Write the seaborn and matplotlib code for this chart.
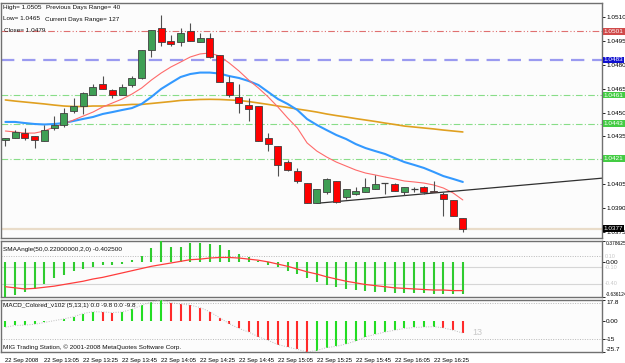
import matplotlib
matplotlib.use("Agg")
import matplotlib.pyplot as plt
import seaborn as sns
import numpy as np

# ---- 5 minute bars, 22 Sep 2008 12:45 .. 16:40 ----
opens = [1.0433, 1.0434, 1.0437, 1.0435, 1.0432, 1.0440, 1.0442, 1.0451, 1.0454, 1.0461,
         1.0468, 1.0464, 1.0461, 1.0467, 1.0472, 1.0489, 1.0503, 1.0495, 1.0494, 1.0501,
         1.0494, 1.0497, 1.0486, 1.0469, 1.0460, 1.0455, 1.0454, 1.0434, 1.0429, 1.0419,
         1.0413, 1.0406, 1.0393, 1.0400, 1.0407, 1.0397, 1.0399, 1.0400, 1.0402, 1.0406,
         1.0405, 1.0400, 1.0402, 1.0403, 1.0401, 1.0399, 1.0395, 1.0384]
highs = [1.0434, 1.0439, 1.0440, 1.0435, 1.0442, 1.0448, 1.0453, 1.0459, 1.0463, 1.0468,
         1.0473, 1.0465, 1.0468, 1.0473, 1.0489, 1.0502, 1.0511, 1.0499, 1.0503, 1.0506,
         1.0500, 1.0500, 1.0486, 1.0473, 1.0468, 1.0459, 1.0454, 1.0437, 1.0429, 1.0420,
         1.0415, 1.0406, 1.0402, 1.0409, 1.0407, 1.0402, 1.0403, 1.0409, 1.0411, 1.0406,
         1.0406, 1.0403, 1.0403, 1.0404, 1.0407, 1.0400, 1.0395, 1.0384]
lows = [1.0429, 1.0434, 1.0433, 1.0428, 1.0432, 1.0439, 1.0441, 1.0450, 1.0449, 1.0461,
        1.0465, 1.0459, 1.0461, 1.0466, 1.0471, 1.0485, 1.0492, 1.0492, 1.0492, 1.0495,
        1.0494, 1.0484, 1.0469, 1.0460, 1.0450, 1.0445, 1.0432, 1.0426, 1.0410, 1.0413,
        1.0406, 1.0393, 1.0393, 1.0399, 1.0393, 1.0396, 1.0398, 1.0400, 1.0402, 1.0399,
        1.0401, 1.0398, 1.0400, 1.0399, 1.0400, 1.0385, 1.0385, 1.0375]
closes = [1.0434, 1.0438, 1.0434, 1.0433, 1.0439, 1.0442, 1.0450, 1.0454, 1.0462, 1.0466,
          1.0465, 1.0461, 1.0466, 1.0472, 1.0489, 1.0502, 1.0494, 1.0493, 1.0500, 1.0495,
          1.0497, 1.0485, 1.0469, 1.0461, 1.0456, 1.0452, 1.0432, 1.0430, 1.0417, 1.0414,
          1.0407, 1.0393, 1.0402, 1.0408, 1.0394, 1.0402, 1.0401, 1.0403, 1.0405, 1.0406,
          1.0401, 1.0403, 1.0402, 1.0400, 1.0400, 1.0396, 1.0385, 1.0377]

ma_fast = [1.04384, 1.04378, 1.04371, 1.04371, 1.04384, 1.04409, 1.04428, 1.04453, 1.04478, 1.04503,
           1.04535, 1.04560, 1.04585, 1.04616, 1.04654, 1.04704, 1.04748, 1.04786, 1.04817, 1.04849,
           1.04868, 1.04874, 1.04855, 1.04811, 1.04761, 1.04704, 1.04654, 1.04598, 1.04535, 1.04466,
           1.04403, 1.04309, 1.04258, 1.04221, 1.04189, 1.04164, 1.04139, 1.04120, 1.04108, 1.04095,
           1.04083, 1.04070, 1.04064, 1.04057, 1.04045, 1.04026, 1.03995, 1.03951]
ma_mid = [1.04441, 1.04441, 1.04434, 1.04428, 1.04425, 1.04428, 1.04434, 1.04447, 1.04460, 1.04472,
          1.04491, 1.04503, 1.04516, 1.04528, 1.04554, 1.04598, 1.04648, 1.04686, 1.04723, 1.04742,
          1.04751, 1.04751, 1.04745, 1.04729, 1.04717, 1.04698, 1.04673, 1.04629, 1.04585, 1.04554,
          1.04516, 1.04459, 1.04422, 1.04390, 1.04359, 1.04334, 1.04302, 1.04277, 1.04258, 1.04240,
          1.04214, 1.04189, 1.04171, 1.04152, 1.04127, 1.04101, 1.04083, 1.04064]
ma_slow = [1.04579, 1.04572, 1.04566, 1.04560, 1.04554, 1.04547, 1.04541, 1.04538, 1.04538, 1.04541,
           1.04541, 1.04544, 1.04547, 1.04551, 1.04551, 1.04557, 1.04563, 1.04569, 1.04576, 1.04579,
           1.04582, 1.04583, 1.04582, 1.04579, 1.04576, 1.04569, 1.04560, 1.04551, 1.04541, 1.04532,
           1.04522, 1.04513, 1.04503, 1.04491, 1.04481, 1.04472, 1.04462, 1.04453, 1.04444, 1.04434,
           1.04425, 1.04415, 1.04409, 1.04403, 1.04397, 1.04390, 1.04384, 1.04378]

trend_bars = [32, 45]
trend_prices = [1.0393, 1.0400]

level_prices = [1.0501, 1.0483, 1.0461, 1.0443, 1.0421]
level_texts = ["1.0501", "1.0483", "1.0461", "1.0443", "1.0421"]
last_price = 1.0377
price_ticks = [1.0510, 1.0495, 1.0480, 1.0465, 1.0450, 1.0435, 1.0405, 1.0390, 1.0375]

# SMAAngle sub window
sma_hist = [-0.636, -0.60, -0.54, -0.49, -0.40, -0.30, -0.23, -0.17, -0.13, -0.10,
            -0.05, -0.05, -0.04, 0.03, 0.11, 0.25, 0.3786, 0.27, 0.27, 0.35,
            0.34, 0.33, 0.30, 0.22, 0.14, 0.08, 0.02, -0.05, -0.10, -0.16,
            -0.22, -0.30, -0.36, -0.42, -0.46, -0.49, -0.51, -0.53, -0.54, -0.55,
            -0.56, -0.56, -0.57, -0.57, -0.58, -0.58, -0.59, -0.58]
sma_signal = [-0.45, -0.47, -0.49, -0.48, -0.46, -0.44, -0.41, -0.38, -0.35, -0.31,
              -0.28, -0.24, -0.20, -0.16, -0.12, -0.08, -0.05, -0.02, 0.01, 0.04,
              0.05, 0.07, 0.08, 0.08, 0.07, 0.05, 0.03, 0.00, -0.04, -0.08,
              -0.13, -0.18, -0.22, -0.27, -0.31, -0.35, -0.38, -0.41, -0.43, -0.45,
              -0.47, -0.48, -0.49, -0.50, -0.51, -0.51, -0.52, -0.52]
sma_levels = [0.1, -0.1, -0.4]

# MACD_Colored sub window
macd = [-5.0, -3.5, -3.2, -2.5, -1.0, 0.5, 2.0, 3.8, 6.5, 8.0,
        7.8, 7.3, 7.8, 10.0, 13.5, 16.0, 17.8, 15.5, 14.5, 13.5,
        11.5, 8.0, 3.0, -2.0, -6.0, -9.0, -13.0, -16.0, -19.5, -21.5,
        -23.5, -25.7, -24.5, -22.0, -21.0, -19.0, -16.5, -13.0, -11.0, -9.0,
        -7.5, -6.0, -5.2, -4.8, -4.5, -5.5, -7.5, -9.8]
macd_levels = [15, -15]

tick_bars = [0, 4, 8, 12, 16, 20, 24, 28, 32, 36, 40, 44]
tick_labels = ["22 Sep 2008", "22 Sep 13:05", "22 Sep 13:25", "22 Sep 13:45", "22 Sep 14:05",
               "22 Sep 14:25", "22 Sep 14:45", "22 Sep 15:05", "22 Sep 15:25", "22 Sep 15:45",
               "22 Sep 16:05", "22 Sep 16:25"]

X_LEFT, X_RIGHT = -0.45, 61.3

sns.set_style("white")
plt.rcParams["font.family"] = ["Liberation Sans", "DejaVu Sans"]
FS = 4.6

W, H = 625, 363
fig = plt.figure(figsize=(W / 100, H / 100), dpi=100)
fig.patch.set_facecolor("white")


def panel(top, bottom):
    a = fig.add_axes([1 / W, 1 - bottom / H, 601 / W, (bottom - top) / H])
    a.set_facecolor("#fcfcfc")
    for s in a.spines.values():
        s.set_color("#707070")
        s.set_linewidth(1.0)
    a.set_xlim(X_LEFT, X_RIGHT)
    a.yaxis.tick_right()
    a.tick_params(axis="y", length=2, width=0.6, pad=1, labelsize=FS, colors="black")
    a.set_xticks([])
    return a


ax = panel(3, 238)
ax1 = panel(241, 297)
ax2 = panel(300, 352)

x = np.arange(len(closes))
o = np.array(opens)
c = np.array(closes)
up = c > o
dn = c < o
dj = c == o

# ---- main chart ----
ax.set_ylim(1.03712, 1.05188)
ax.axhline(last_price, color="#e9dcc9", lw=1.6, zorder=1)
ax.axhline(level_prices[0], color="#e07070", lw=0.8, ls=(0, (6, 2, 1, 2, 1, 2)), zorder=1)
ax.axhline(level_prices[1], color="#9a9af0", lw=1.6, ls=(0, (6, 3.5)), zorder=1)
for lv in level_prices[2:]:
    ax.axhline(lv, color="#88dd88", lw=0.8, ls=(0, (6, 2, 1, 2)), zorder=1)

sns.lineplot(x=x, y=ma_slow, ax=ax, color="#e0a020", linewidth=1.2, zorder=2)
sns.lineplot(x=x, y=ma_mid, ax=ax, color="#3399ff", linewidth=1.5, zorder=2)
sns.lineplot(x=x, y=ma_fast, ax=ax, color="#ff6a6a", linewidth=0.8, zorder=2)

slope = (trend_prices[1] - trend_prices[0]) / (trend_bars[1] - trend_bars[0])
ax.plot([trend_bars[0], X_RIGHT],
        [trend_prices[0], trend_prices[0] + slope * (X_RIGHT - trend_bars[0])],
        color="#303030", lw=0.9, zorder=2)

ax.vlines(x, lows, highs, color="#505050", lw=0.8, zorder=3)
ax.bar(x[up], (c - o)[up], bottom=o[up], width=0.72, color="#3f9f55",
       edgecolor="#404040", linewidth=0.6, zorder=4)
ax.bar(x[dn], (c - o)[dn], bottom=o[dn], width=0.72, color="#ff0000",
       edgecolor="#404040", linewidth=0.6, zorder=4)
ax.hlines(o[dj], x[dj] - 0.36, x[dj] + 0.36, color="#404040", lw=0.9, zorder=4)

ax.set_yticks(price_ticks)
ax.set_yticklabels([f"{t:.4f}" for t in price_ticks])

tr = ax.get_yaxis_transform()
box_style = [("#d04a4a", "white"), ("#1010d0", "white"), ("#44cc44", "white"),
             ("#44cc44", "white"), ("#44cc44", "white")]
for lv, txt, (bg, fg) in zip(level_prices, level_texts, box_style):
    ax.text(1.003, lv, txt, transform=tr, fontsize=FS, color=fg, va="center", ha="left",
            bbox=dict(boxstyle="square,pad=0.15", fc=bg, ec="none"), zorder=6, clip_on=False)
ax.text(1.003, last_price, f"{last_price:.4f}", transform=tr, fontsize=FS, color="white",
        va="center", ha="left", bbox=dict(boxstyle="square,pad=0.15", fc="black", ec="none"),
        zorder=6, clip_on=False)

# ---- SMAAngle ----
ax1.set_ylim(-0.636124, 0.378625)
ax1.axhline(sma_levels[0], color="#b8b8b8", lw=0.7, ls=(0, (1, 1.5)), zorder=1)
for lv in sma_levels[1:]:
    ax1.axhline(lv, color="#d6d6d6", lw=0.8, zorder=1)
ax1.vlines(x, 0, sma_hist, color="#2fcc2f", lw=1.5, zorder=3)
sns.lineplot(x=x, y=sma_signal, ax=ax1, color="#ff3c3c", linewidth=0.9, zorder=4)
ax1.set_yticks([0.378625, 0.0, -0.636124])
ax1.set_yticklabels(["0.378625", "0.00", "-0.636124"])
ax1.tick_params(axis="y", pad=0.5)
lab = ax1.get_yticklabels()
lab[0].set_va("top")
lab[2].set_va("bottom")
lab[0].set_fontsize(3.6)
lab[2].set_fontsize(3.4)
tr1 = ax1.get_yaxis_transform()
for lv in sma_levels:
    ax1.text(1.004, lv, f"{lv:.2f}", transform=tr1, fontsize=FS - 0.6, color="#c8c8c8",
             va="center", ha="left", clip_on=False)

# ---- MACD colored ----
ax2.set_ylim(-25.7, 17.8)
for lv in macd_levels:
    ax2.axhline(lv, color="#b8b8b8", lw=0.7, ls=(0, (1, 1.5)), zorder=1)
mv = np.array(macd)
rising = np.r_[True, mv[1:] > mv[:-1]]
ax2.vlines(x[rising], 0, mv[rising], color="#22dd22", lw=1.5, zorder=3)
ax2.vlines(x[~rising], 0, mv[~rising], color="#ff2a2a", lw=1.5, zorder=3)
sns.lineplot(x=x, y=macd, ax=ax2, color="#bdbdbd", linewidth=0.7, linestyle=(0, (1, 1.5)), zorder=4)
ax2.set_yticks([17.8, 0.0, -15, -25.7])
ax2.set_yticklabels(["17.8", "0.00", "-15", "-25.7"])
lab = ax2.get_yticklabels()
lab[0].set_va("top")
lab[3].set_va("bottom")
ax2.text(x[-1] + 1.0, macd[-1], "13", fontsize=6.5, color="#c8c8c8", va="center", ha="left")

ax2.set_xticks(tick_bars)
ax2.set_xticklabels(tick_labels, fontsize=4.2)
for t in ax2.get_xticklabels():
    t.set_horizontalalignment("left")
ax2.tick_params(axis="x", length=3, width=0.6, pad=1, colors="black")

for a in (ax, ax1, ax2):
    a.set_xlabel("")
    a.set_ylabel("")
    a.set_xlim(X_LEFT, X_RIGHT)

# ---- texts ----
def ftext(px, py, s, **kw):
    fig.text(px / W, 1 - py / H, s, fontsize=FS, color="#101010", va="center", ha="left", **kw)


ftext(3, 8, "High= 1.0505")
ftext(46, 8, "Previous Days Range= 40")
ftext(3, 19, "Low= 1.0465")
ftext(45, 19, "Current Days Range= 127")
ftext(4, 30, "Close= 1.0479")
ftext(3, 249, "SMAAngle(50,0.22000000,2,0) -0.402500")
ftext(3, 305, "MACD_Colored_v102 (5,13,1) 0.0 -9.8 0.0 -9.8")
ftext(3, 347, "MIG Trading Station, \u00a9 2001-2008 MetaQuotes Software Corp.")

fig.savefig("out.png", dpi=100)
